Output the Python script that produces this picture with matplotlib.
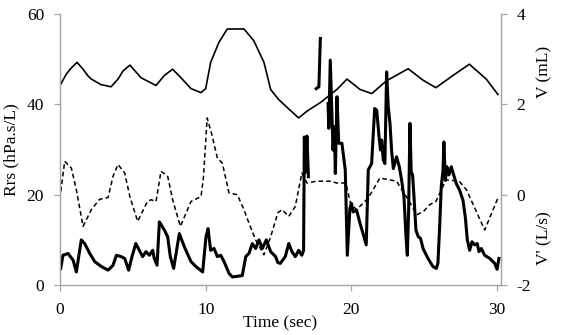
import numpy as np
import matplotlib
matplotlib.use('Agg')
import matplotlib.pyplot as plt

plt.rcParams['font.family'] = ['Liberation Serif', 'DejaVu Serif']
plt.rcParams['axes.unicode_minus'] = False

# Respiratory resistance (left axis), NaN = gap in the trace
rrs_t = [0.05, 0.2, 0.55, 0.9, 1.12, 1.46, 1.69, 2.04, 2.38, 2.84, 3.3, 3.64, 3.87, 4.2, 4.44,
         4.71, 4.94, 5.2, 5.44, 5.67, 5.9, 6.13, 6.36, 6.47, 6.66, 6.82, 7.16, 7.39, 7.57, 7.8,
         8.19, 8.53, 8.99, 9.33, 9.79, 10.02, 10.16, 10.34, 10.57, 10.8, 11.03, 11.26, 11.6,
         11.83, 12.51, 12.75, 12.97, 13.2, 13.43, 13.66, 13.89, 14.16, 14.46, 14.8, 14.95,
         15.12, 15.46, 15.7, 15.92, 16.15, 16.38, 16.6, 16.72, 16.77, 16.85, 16.95, 17.05,
         17.3, 17.59, 17.77, 17.87, 18.1, 18.4, 18.45, 18.55, 18.74, 18.83, 18.9, 19.01,
         19.13, 19.35, 19.58, 19.72, 19.9, 20.0, 20.13, 20.36, 20.59, 20.82, 21.02, 21.16,
         21.39, 21.6, 21.74, 21.9, 22.0, 22.08, 22.19, 22.3, 22.42, 22.53, 22.65, 22.76,
         22.88, 23.1, 23.29, 23.45, 23.61, 23.75, 23.84, 23.93, 24.02, 24.11, 24.2, 24.3,
         24.43, 24.59, 24.75, 24.92, 25.26, 25.6, 25.83, 25.94, 26.06, 26.17, 26.29, 26.35,
         26.45, 26.56, 26.7, 26.86, 27.02, 27.2, 27.43, 27.66, 27.82, 27.96, 28.12, 28.28,
         28.46, 28.64, 28.76, 28.92, 29.15, 29.5, 29.84, 30.0, 30.13]
rrs = [3.7, 6.6, 7.0, 5.5, 2.9, 10.0, 9.2, 7.0, 5.2, 4.1, 3.3, 4.4, 6.6, 6.3, 5.9,
       3.3, 6.3, 9.2, 7.7, 6.3, 7.4, 6.6, 7.7, 5.9, 4.4, 14.0, 12.2, 10.7, 6.3, 3.7,
       11.4, 8.5, 5.2, 4.1, 2.9, 10.7, 12.5, 7.7, 8.1, 6.3, 6.6, 5.2, 2.6,
       1.8, 2.1, 6.3, 7.0, 9.2, 8.1, 10.0, 8.1, 10.0, 7.4, 6.3, 5.0,
       4.8, 6.3, 9.2, 7.4, 6.3, 7.7, 6.6, 7.7, 32.8, 25.0, 33.0, 24.0,
       np.nan, 43.5, 43.9, 54.6, np.nan, 40.2, 34.7, 49.8, 29.9, 35.0, 24.7, 41.7,
       31.4, 31.4, 25.5, 6.6, 17.0, 18.1, 16.2, 16.6, 13.7, 11.2, 8.9, 25.5,
       26.9, 39.1, 38.7, 32.8, 29.9, 32.1, 27.7, 26.9, 47.2, 39.5, 35.8, 29.9,
       25.8, 28.4, 26.2, 23.2, 19.5, 10.7, 6.6, 16.6, 35.8, 24.7, 24.5, 19.5,
       12.2, 10.7, 10.3, 8.1, 5.9, 4.1, 3.7, 4.8, 12.9, 21.8, 25.5, 31.7,
       23.2, 26.2, 24.4, 26.2, 24.4, 22.5, 21.0, 18.8, 15.1, 10.0, 7.7, 9.6,
       8.9, 9.2, 7.4, 8.1, 6.6, 5.9, 4.8, 3.5, 5.9]

# Volume (right axis)
vol_t = [0.0, 0.43, 0.78, 1.17, 1.58, 1.92, 2.15, 2.8, 3.5, 3.98, 4.32, 4.8, 5.56, 6.59, 7.16,
         7.73, 8.3, 8.99, 9.68, 10.0, 10.34, 10.9, 11.48, 12.63, 13.3, 14.0, 14.46, 15.0, 15.6,
         16.38, 16.95, 17.87, 19.0, 19.7, 20.6, 21.4, 22.4, 23.9, 24.9, 25.8, 26.97, 28.1,
         29.26, 30.06]
vol = [2.42, 2.67, 2.81, 2.93, 2.78, 2.63, 2.56, 2.44, 2.39, 2.56, 2.74, 2.87, 2.59, 2.42, 2.64,
       2.78, 2.59, 2.35, 2.26, 2.35, 2.93, 3.37, 3.67, 3.67, 3.41, 2.93, 2.33, 2.11, 1.93,
       1.70, 1.85, 2.04, 2.33, 2.56, 2.33, 2.24, 2.52, 2.79, 2.54, 2.37, 2.64, 2.89,
       2.56, 2.22]

# Flow (right axis, dashed)
flow_t = [0.05, 0.32, 0.78, 1.12, 1.58, 2.15, 2.72, 3.3, 3.64, 3.98, 4.44, 4.8, 5.33, 6.0,
          6.25, 6.59, 6.93, 7.39, 7.73, 8.26, 8.99, 9.68, 9.85, 10.1, 10.45, 10.8, 11.14,
          11.6, 12.17, 12.63, 12.97, 13.43, 14.0, 14.46, 14.95, 15.24, 15.7, 16.15, 16.6,
          16.95, 17.64, 18.55, 19.0, 19.62, 19.95, 20.36, 21.16, 21.96, 23.1, 23.9, 24.5,
          24.95, 25.37, 25.8, 26.5, 27.4, 27.9, 29.15, 30.06]
flow = [0.07, 0.74, 0.59, 0.11, -0.70, -0.33, -0.10, -0.06, 0.41, 0.67, 0.48, -0.05, -0.59, -0.15,
        -0.11, -0.15, 0.52, 0.41, -0.11, -0.70, -0.15, -0.04, 0.40, 1.70, 1.30, 0.81, 0.70,
        0.04, 0.0, -0.33, -0.63, -1.0, -1.33, -0.93, -0.40, -0.33, -0.48, -0.26, 0.48,
        0.26, 0.30, 0.30, 0.26, 0.26, -0.20, -0.33, -0.07, 0.37, 0.30, -0.11, -0.44,
        -0.37, -0.22, -0.15, 0.33, 0.30, 0.11, -0.78, -0.07]

grey = '#a6a6a6'

fig = plt.figure(figsize=(5.61, 3.35), dpi=100)
ax = fig.add_axes([0.107, 0.149, 0.7855, 0.809])
ax2 = ax.twinx()

ax.plot(rrs_t, rrs, color='black', linewidth=2.2, zorder=3)
ax2.plot(vol_t, vol, color='black', linewidth=1.2)
ax2.plot(flow_t, flow, color='black', linewidth=1.1, linestyle=(0, (3, 2)))

ax.set_xlim(0, 30.25)
ax.set_ylim(0, 60)
ax.set_xticks([0, 10, 20, 30])
ax.set_yticks([0, 20, 40, 60])
ax2.set_ylim(-2, 4)
ax2.set_yticks([-2, 0, 2, 4])

for a in (ax, ax2):
    a.spines['top'].set_visible(False)
    for s in ('left', 'right', 'bottom'):
        a.spines[s].set_color(grey)
        a.spines[s].set_linewidth(0.9)
    a.tick_params(colors=grey, labelcolor='black', labelsize=12.5, length=4.5, width=0.9, pad=7)
ax.tick_params(axis='x', pad=8)

ax.set_xlabel('Time (sec)', fontsize=12.5, labelpad=-2)
ax.set_ylabel('Rrs (hPa.s/L)', fontsize=12.5, labelpad=5)
ax2.text(1.1, 0.785, 'V (mL)', transform=ax2.transAxes, rotation=90,
         fontsize=12.5, ha='center', va='center')
ax2.text(1.1, 0.175, "V' (L/s)", transform=ax2.transAxes, rotation=90,
         fontsize=12.5, ha='center', va='center')

fig.savefig('out.png', dpi=100)
